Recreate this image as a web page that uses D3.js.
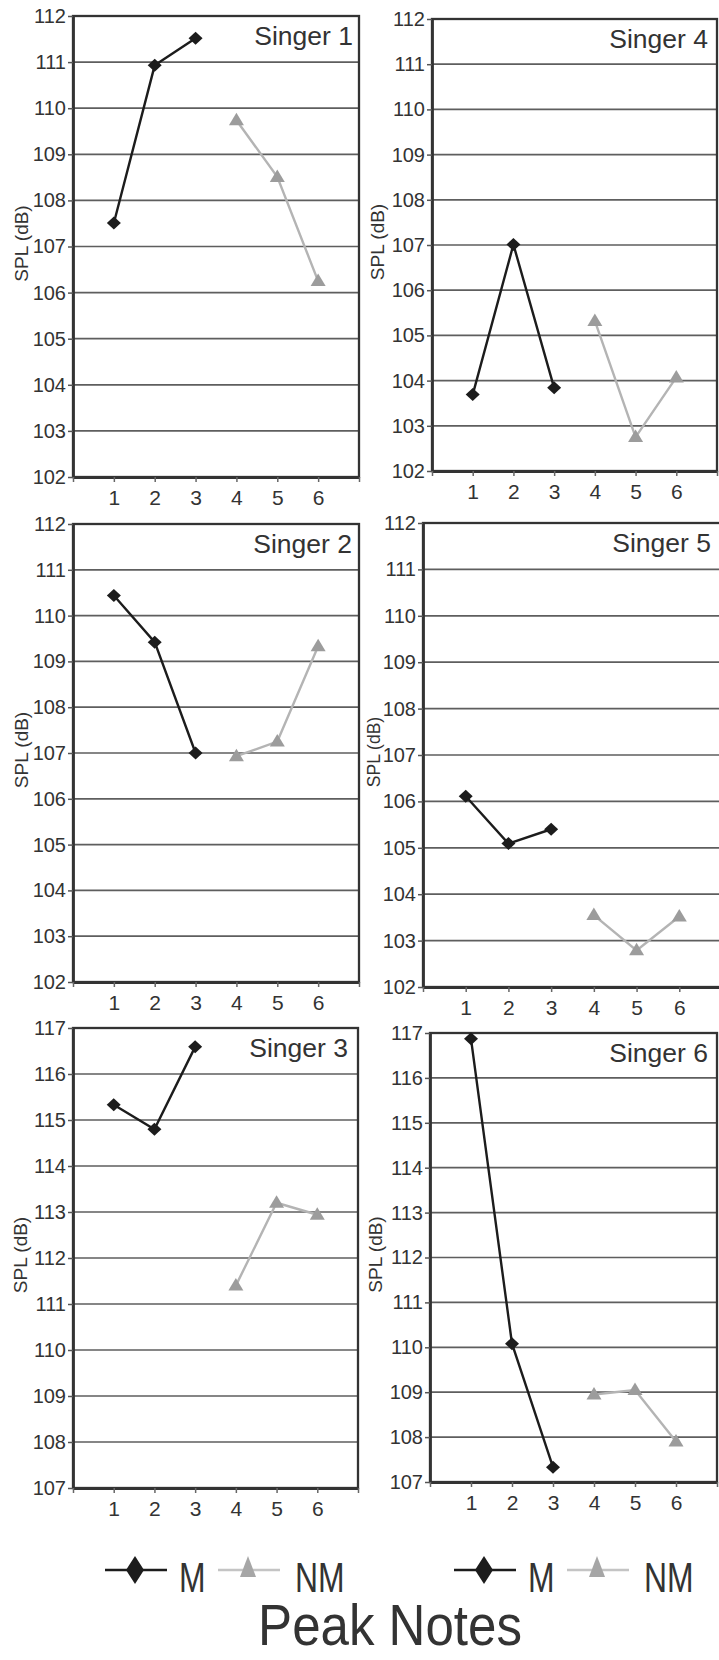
<!DOCTYPE html>
<html>
<head>
<meta charset="utf-8">
<script src="https://cdn.jsdelivr.net/npm/d3@7"></script>
<style>
  body { margin: 0; background: #fff; }
  svg { display: block; }
</style>
</head>
<body>
<script>
// ---- data ----
const singers = ["Singer 1", "Singer 2", "Singer 3", "Singer 4", "Singer 5", "Singer 6"];
const notesM = [1, 2, 3];
const notesNM = [4, 5, 6];
const xTickLabels = [1, 2, 3, 4, 5, 6];
const valuesM = [
  [107.51, 110.93, 111.52],
  [110.44, 109.42, 107.0],
  [115.33, 114.8, 116.59],
  [103.69, 107.01, 103.84],
  [106.11, 105.09, 105.4],
  [116.87, 110.08, 107.33]
];
const valuesNM = [
  [109.74, 108.51, 106.25],
  [106.93, 107.25, 109.33],
  [111.4, 113.2, 112.94],
  [105.32, 102.75, 104.07],
  [103.55, 102.79, 103.52],
  [108.95, 109.05, 107.9]
];
const yDomains = [[102, 112], [102, 112], [107, 117], [102, 112], [102, 112], [107, 117]];
const seriesNames = ["M", "NM"];
const yTitle = "SPL (dB)";
const xTitle = "Peak Notes";

// ---- layout (page pixels) ----
const boxes = [
  {left: 73, right: 359, top: 16, bottom: 477, ylab: 21, title: 353},
  {left: 73, right: 359, top: 524, bottom: 982, ylab: 21, title: 352},
  {left: 73, right: 358, top: 1028, bottom: 1488, ylab: 20, title: 348},
  {left: 432, right: 717, top: 19, bottom: 471, ylab: 377, title: 708},
  {left: 423, right: 722, top: 523, bottom: 987, ylab: 374, title: 711},
  {left: 430, right: 717, top: 1033, bottom: 1482, ylab: 375, title: 708}
];
const legendStarts = [105, 454];
const legendY = 1570;

const colM = "#1c1c1c", colNM = "#b4b4b4", colNMmark = "#9c9c9c";
const font = "Liberation Sans, Arial, Helvetica, sans-serif";

const svg = d3.select("body").append("svg")
    .attr("width", 719)
    .attr("height", 1660)
    .attr("font-family", font);

const diamond = (w, h) => `M0,${-h}L${w},0L0,${h}L${-w},0Z`;
const triangle = (w, up, down) => `M0,${-up}L${w},${down}L${-w},${down}Z`;

singers.forEach((name, i) => {
  const b = boxes[i];
  const x = d3.scaleLinear([0, 7], [b.left, b.right]);
  const y = d3.scaleLinear(yDomains[i], [b.bottom, b.top]);
  const g = svg.append("g");

  // gridlines
  g.append("g")
    .selectAll("line")
    .data(y.ticks(10).filter(v => v > yDomains[i][0] && v < yDomains[i][1]))
    .join("line")
      .attr("x1", b.left).attr("x2", b.right)
      .attr("y1", d => y(d)).attr("y2", d => y(d))
      .attr("stroke", "#5e5e5e")
      .attr("stroke-width", 1.7);

  // frame
  g.append("rect")
    .attr("x", b.left).attr("y", b.top)
    .attr("width", b.right - b.left).attr("height", b.bottom - b.top)
    .attr("fill", "none")
    .attr("stroke", "#333")
    .attr("stroke-width", 2.3);

  // y axis
  const ya = g.append("g")
      .attr("transform", `translate(${b.left},0)`)
      .call(d3.axisLeft(y).ticks(10).tickFormat(d3.format("d")).tickSize(5).tickSizeOuter(0).tickPadding(2));
  ya.select(".domain").attr("stroke", "#333").attr("stroke-width", 2.8);
  ya.selectAll(".tick line").attr("stroke", "#555").attr("stroke-width", 1.5);
  ya.selectAll(".tick text").attr("font-size", 20).attr("fill", "#333").attr("font-family", font);

  // x axis
  const xa = g.append("g")
      .attr("transform", `translate(0,${b.bottom})`)
      .call(d3.axisBottom(x).tickValues([0, ...xTickLabels, 7])
        .tickFormat(d => xTickLabels.includes(d) ? d : "")
        .tickSize(5).tickSizeOuter(0).tickPadding(8));
  xa.select(".domain").attr("stroke", "#333").attr("stroke-width", 2.8);
  xa.selectAll(".tick line").attr("stroke", "#666").attr("stroke-width", 1.5);
  xa.selectAll(".tick text").attr("font-size", 21).attr("fill", "#333").attr("font-family", font);

  // y title
  g.append("text")
    .attr("transform", `translate(${b.ylab},${(b.top + b.bottom) / 2 - 3}) rotate(-90)`)
    .attr("text-anchor", "middle")
    .attr("dy", "0.35em")
    .attr("font-size", i === 4 ? 17.5 : 19)
    .attr("fill", "#333")
    .text(yTitle);

  // panel title
  g.append("text")
    .attr("x", b.title).attr("y", b.top + 29)
    .attr("text-anchor", "end")
    .attr("font-size", 26.5)
    .attr("fill", "#333")
    .text(name);

  // NM series
  const nm = notesNM.map((n, k) => [n, valuesNM[i][k]]);
  g.append("path")
    .attr("d", d3.line().x(d => x(d[0])).y(d => y(d[1]))(nm))
    .attr("fill", "none")
    .attr("stroke", colNM)
    .attr("stroke-width", 2.4);
  g.append("g").selectAll("path").data(nm).join("path")
    .attr("transform", d => `translate(${x(d[0])},${y(d[1])})`)
    .attr("d", triangle(7.5, 7.5, 5))
    .attr("fill", colNMmark);

  // M series
  const m = notesM.map((n, k) => [n, valuesM[i][k]]);
  g.append("path")
    .attr("d", d3.line().x(d => x(d[0])).y(d => y(d[1]))(m))
    .attr("fill", "none")
    .attr("stroke", colM)
    .attr("stroke-width", 2.4);
  g.append("g").selectAll("path").data(m).join("path")
    .attr("transform", d => `translate(${x(d[0])},${y(d[1])})`)
    .attr("d", diamond(7, 6.5))
    .attr("fill", colM);
});

// legends
legendStarts.forEach(x0 => {
  const lg = svg.append("g").attr("transform", `translate(${x0},${legendY})`);
  lg.append("line").attr("x1", 0).attr("x2", 62).attr("stroke", colM).attr("stroke-width", 2.5);
  lg.append("path").attr("transform", "translate(30,0)").attr("d", diamond(9, 14)).attr("fill", colM);
  lg.append("text")
    .attr("transform", "translate(74,22) scale(0.76,1)")
    .attr("font-size", 42).attr("fill", "#333")
    .text(seriesNames[0]);
  lg.append("line").attr("x1", 113).attr("x2", 175).attr("stroke", "#c4c4c4").attr("stroke-width", 2.5);
  lg.append("path").attr("transform", "translate(143,0)").attr("d", triangle(8, 14, 7)).attr("fill", "#a6a6a6");
  lg.append("text")
    .attr("transform", "translate(190,22) scale(0.76,1)")
    .attr("font-size", 42).attr("fill", "#333")
    .text(seriesNames[1]);
});

svg.append("text")
  .attr("transform", "translate(390,1645) scale(0.88,1)")
  .attr("text-anchor", "middle")
  .attr("font-size", 58)
  .attr("fill", "#333")
  .text(xTitle);
</script>
</body>
</html>
